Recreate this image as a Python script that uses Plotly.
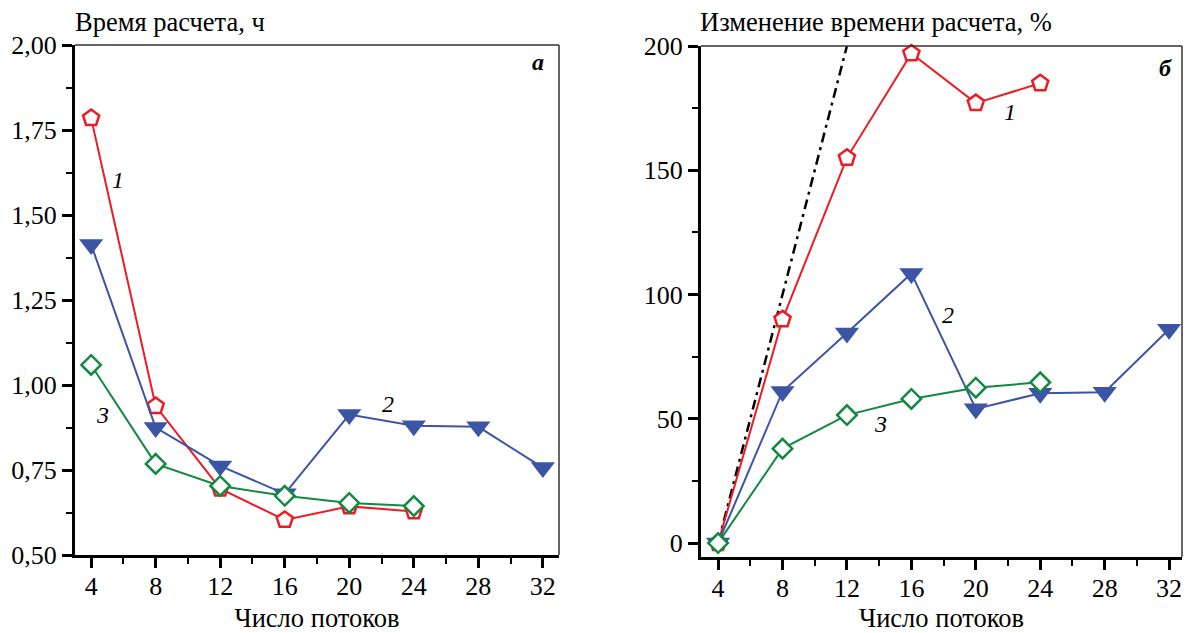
import plotly.graph_objects as go

threads = [4, 8, 12, 16, 20, 24, 28, 32]

# Panel a: computation time, hours
time_1 = [1.785, 0.938, 0.695, 0.603, 0.643, 0.628]
time_2 = [1.413, 0.875, 0.762, 0.680, 0.913, 0.880, 0.877, 0.757]
time_3 = [1.059, 0.768, 0.703, 0.674, 0.653, 0.644]

# Panel b: change of computation time, %
chg_1 = [0, 90, 155, 197, 177, 185]
chg_2 = [0, 61, 84.5, 108.5, 54, 60.3, 60.7, 86]
chg_3 = [0, 38, 51.5, 58, 62.5, 64.7]
ideal_x = [4, 8, 12]
ideal_y = [0, 100, 200]

x_ticks = [4, 8, 12, 16, 20, 24, 28, 32]
ya_ticks = [0.50, 0.75, 1.00, 1.25, 1.50, 1.75, 2.00]
ya_labels = ["0,50", "0,75", "1,00", "1,25", "1,50", "1,75", "2,00"]
yb_ticks = [0, 50, 100, 150, 200]

RED = "#ED1C24"
BLUE = "#3B54A4"
GREEN = "#108A40"
FONT = "Liberation Serif"
W, H = 1186, 633

fig = go.Figure()

def add_series(xs, ys, color, symbol, size, filled, xa, ya):
    fig.add_trace(go.Scatter(
        x=xs, y=ys, mode="lines+markers", xaxis=xa, yaxis=ya,
        line=dict(color=color, width=2),
        marker=dict(symbol=symbol, size=size,
                    color=color if filled else "white",
                    line=dict(color=color, width=0 if filled else 2.5)),
        showlegend=False, cliponaxis=False))

# panel a
add_series(threads[:6], time_1, RED, "pentagon", 17, False, "x", "y")
add_series(threads, time_2, BLUE, "triangle-down", 21, True, "x", "y")
add_series(threads[:6], time_3, GREEN, "diamond", 15, False, "x", "y")

# panel b
fig.add_trace(go.Scatter(x=ideal_x, y=ideal_y, mode="lines", xaxis="x2", yaxis="y2",
                         line=dict(color="black", width=2.5, dash="10px,5px,3px,5px"),
                         showlegend=False))
add_series(threads[:6], chg_1, RED, "pentagon", 17, False, "x2", "y2")
add_series(threads, chg_2, BLUE, "triangle-down", 21, True, "x2", "y2")
add_series(threads[:6], chg_3, GREEN, "diamond", 15, False, "x2", "y2")

def px_x(p):
    return p / W

def px_y(p):
    return 1 - p / H

tickfont = dict(family=FONT, size=26, color="black")
xcommon = dict(tickvals=x_ticks, ticks="outside", ticklen=10, tickwidth=2.5,
               tickcolor="black", showline=True, linecolor="black", linewidth=3,
               showgrid=False, zeroline=False, tickfont=tickfont, automargin=False,
               ticklabelstandoff=-4,
               minor=dict(dtick=2, tick0=0, ticks="outside", ticklen=6,
                          tickwidth=2, tickcolor="black", showgrid=False),
               title=dict(text="Число потоков", font=dict(family=FONT, size=26.5, color="black"),
                          standoff=14))
ycommon = dict(ticks="outside", ticklen=10, tickwidth=2.5, tickcolor="black",
               showline=True, linecolor="black", linewidth=3, showgrid=False,
               zeroline=False, tickfont=tickfont, automargin=False)

fig.update_layout(
    width=W, height=H, margin=dict(l=0, r=0, t=0, b=0),
    paper_bgcolor="white", plot_bgcolor="white",
    font=dict(family=FONT, size=26, color="black"),
    xaxis=dict(domain=[px_x(75), px_x(559)], range=[3, 33], anchor="y", **xcommon),
    yaxis=dict(domain=[px_y(555), px_y(45)], range=[0.5, 2.0], anchor="x",
               tickvals=ya_ticks, ticktext=ya_labels,
               minor=dict(dtick=0.125, tick0=0.5, ticks="outside", ticklen=6,
                          tickwidth=2, tickcolor="black", showgrid=False),
               **ycommon),
    xaxis2=dict(domain=[px_x(701), px_x(1182)], range=[2.94, 32.8], anchor="y2", **xcommon),
    yaxis2=dict(domain=[px_y(557), px_y(46)], range=[-5.6, 200], anchor="x2",
                tickvals=yb_ticks,
                minor=dict(dtick=25, tick0=0, ticks="outside", ticklen=6,
                           tickwidth=2, tickcolor="black", showgrid=False),
                **ycommon),
)

# top and right frame lines
for xa, ya in [("x", "y"), ("x2", "y2")]:
    fig.add_shape(type="line", xref=f"{xa} domain", yref=f"{ya} domain",
                  x0=0, x1=1, y0=1, y1=1, line=dict(color="#333333", width=1.5))
    fig.add_shape(type="line", xref=f"{xa} domain", yref=f"{ya} domain",
                  x0=1, x1=1, y0=0, y1=1, line=dict(color="#333333", width=1.5))

lab = dict(family=FONT, size=26.5, color="black")
ann = [
    dict(text="Время расчета, ч", x=px_x(73), y=px_y(22), xanchor="left", yanchor="middle"),
    dict(text="Изменение времени расчета, %", x=px_x(698), y=px_y(22), xanchor="left", yanchor="middle"),
]
for a in ann:
    fig.add_annotation(xref="paper", yref="paper", showarrow=False, font=lab, **a)

curve_labels = [
    ("x", "y", 5.66, 1.603, "<i>1</i>"),
    ("x", "y", 22.4, 0.944, "<i>2</i>"),
    ("x", "y", 4.73, 0.912, "<i>3</i>"),
    ("x", "y", 31.7, 1.95, "<b><i>а</i></b>"),
    ("x2", "y2", 22.1, 173.4, "<i>1</i>"),
    ("x2", "y2", 18.3, 91.8, "<i>2</i>"),
    ("x2", "y2", 14.1, 47.9, "<i>3</i>"),
    ("x2", "y2", 31.75, 191, "<b><i>б</i></b>"),
]
for xa, ya, x, y, t in curve_labels:
    fig.add_annotation(xref=xa, yref=ya, x=x, y=y, text=t, showarrow=False,
                       font=dict(family=FONT, size=24, color="black"))

fig.write_html("out.html")
